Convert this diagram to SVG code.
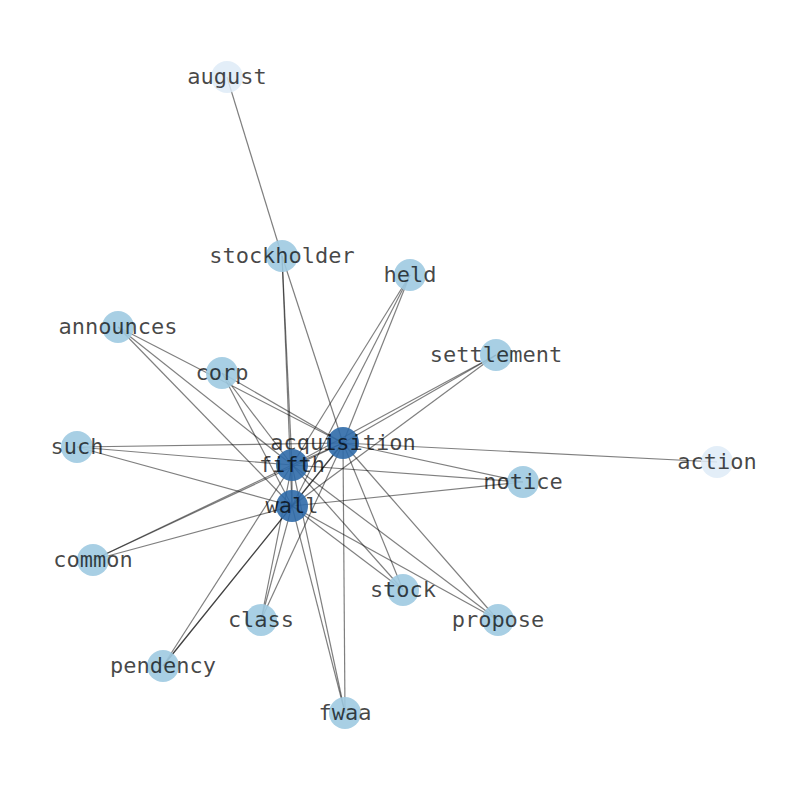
<svg xmlns="http://www.w3.org/2000/svg" width="794" height="790" viewBox="0 0 794 790">
<style>
.e{stroke:#000;stroke-opacity:0.5;stroke-width:1.2;fill:none}
.l{fill:#9ecae1;fill-opacity:0.9}
.d{fill:#2f6aa8;fill-opacity:0.9}
.p{fill:#deebf7;fill-opacity:0.85}
text{font-family:"DejaVu Sans Mono","Liberation Mono",monospace;font-size:22px;fill:#000;fill-opacity:0.72;text-anchor:middle}
</style>
<rect width="794" height="790" fill="#fff"/>
<g id="edges">
<line class="e" x1="227" y1="77" x2="282" y2="256"/>
<line class="e" x1="717" y1="462" x2="343" y2="443"/>
<line class="e" x1="343" y1="443" x2="292" y2="465"/>
<line class="e" x1="343" y1="443" x2="292" y2="506"/>
<line class="e" x1="292" y1="465" x2="292" y2="506"/>
<!-- stockholder -->
<line class="e" x1="282" y1="256" x2="343" y2="443"/>
<line class="e" x1="282" y1="256" x2="292" y2="465"/>
<line class="e" x1="282" y1="256" x2="292" y2="506"/>
<!-- held -->
<line class="e" x1="410" y1="275" x2="343" y2="443"/>
<line class="e" x1="410" y1="275" x2="292" y2="465"/>
<line class="e" x1="410" y1="275" x2="292" y2="506"/>
<!-- announces -->
<line class="e" x1="118" y1="327" x2="343" y2="443"/>
<line class="e" x1="118" y1="327" x2="292" y2="465"/>
<line class="e" x1="118" y1="327" x2="292" y2="506"/>
<!-- corp -->
<line class="e" x1="222" y1="373" x2="343" y2="443"/>
<line class="e" x1="222" y1="373" x2="292" y2="465"/>
<line class="e" x1="222" y1="373" x2="292" y2="506"/>
<!-- settlement -->
<line class="e" x1="496" y1="355" x2="343" y2="443"/>
<line class="e" x1="496" y1="355" x2="292" y2="465"/>
<line class="e" x1="496" y1="355" x2="292" y2="506"/>
<!-- such -->
<line class="e" x1="77" y1="447" x2="343" y2="443"/>
<line class="e" x1="77" y1="447" x2="292" y2="465"/>
<line class="e" x1="77" y1="447" x2="292" y2="506"/>
<!-- notice -->
<line class="e" x1="523" y1="482" x2="343" y2="443"/>
<line class="e" x1="523" y1="482" x2="292" y2="465"/>
<line class="e" x1="523" y1="482" x2="292" y2="506"/>
<!-- common -->
<line class="e" x1="93" y1="560" x2="343" y2="443"/>
<line class="e" x1="93" y1="560" x2="292" y2="465"/>
<line class="e" x1="93" y1="560" x2="292" y2="506"/>
<!-- stock -->
<line class="e" x1="403" y1="590" x2="343" y2="443"/>
<line class="e" x1="403" y1="590" x2="292" y2="465"/>
<line class="e" x1="403" y1="590" x2="292" y2="506"/>
<!-- class -->
<line class="e" x1="261" y1="620" x2="343" y2="443"/>
<line class="e" x1="261" y1="620" x2="292" y2="465"/>
<line class="e" x1="261" y1="620" x2="292" y2="506"/>
<!-- propose -->
<line class="e" x1="498" y1="620" x2="343" y2="443"/>
<line class="e" x1="498" y1="620" x2="292" y2="465"/>
<line class="e" x1="498" y1="620" x2="292" y2="506"/>
<!-- pendency -->
<line class="e" x1="163" y1="666" x2="343" y2="443"/>
<line class="e" x1="163" y1="666" x2="292" y2="465"/>
<line class="e" x1="163" y1="666" x2="292" y2="506"/>
<!-- fwaa -->
<line class="e" x1="345" y1="713" x2="343" y2="443"/>
<line class="e" x1="345" y1="713" x2="292" y2="465"/>
<line class="e" x1="345" y1="713" x2="292" y2="506"/>
</g>
<g id="node-august"><circle class="p" cx="227" cy="77" r="16"/><text x="227" y="84">august</text></g>
<g id="node-stockholder"><circle class="l" cx="282" cy="256" r="16"/><text x="282" y="263">stockholder</text></g>
<g id="node-held"><circle class="l" cx="410" cy="275" r="16"/><text x="410" y="282">held</text></g>
<g id="node-announces"><circle class="l" cx="118" cy="327" r="16"/><text x="118" y="334">announces</text></g>
<g id="node-corp"><circle class="l" cx="222" cy="373" r="16"/><text x="222" y="380">corp</text></g>
<g id="node-settlement"><circle class="l" cx="496" cy="355" r="16"/><text x="496" y="362">settlement</text></g>
<g id="node-such"><circle class="l" cx="77" cy="447" r="16"/><text x="77" y="454">such</text></g>
<g id="node-notice"><circle class="l" cx="523" cy="482" r="16"/><text x="523" y="489">notice</text></g>
<g id="node-action"><circle class="p" cx="717" cy="462" r="16"/><text x="717" y="469">action</text></g>
<g id="node-common"><circle class="l" cx="93" cy="560" r="16"/><text x="93" y="567">common</text></g>
<g id="node-stock"><circle class="l" cx="403" cy="590" r="16"/><text x="403" y="597">stock</text></g>
<g id="node-class"><circle class="l" cx="261" cy="620" r="16"/><text x="261" y="627">class</text></g>
<g id="node-propose"><circle class="l" cx="498" cy="620" r="16"/><text x="498" y="627">propose</text></g>
<g id="node-pendency"><circle class="l" cx="163" cy="666" r="16"/><text x="163" y="673">pendency</text></g>
<g id="node-fwaa"><circle class="l" cx="345" cy="713" r="16"/><text x="345" y="720">fwaa</text></g>
<g id="node-acquisition"><circle class="d" cx="343" cy="443" r="16"/><text x="343" y="450">acquisition</text></g>
<g id="node-fifth"><circle class="d" cx="292" cy="465" r="16"/><text x="292" y="472">fifth</text></g>
<g id="node-wall"><circle class="d" cx="292" cy="506" r="16"/><text x="292" y="513">wall</text></g>
</svg>
